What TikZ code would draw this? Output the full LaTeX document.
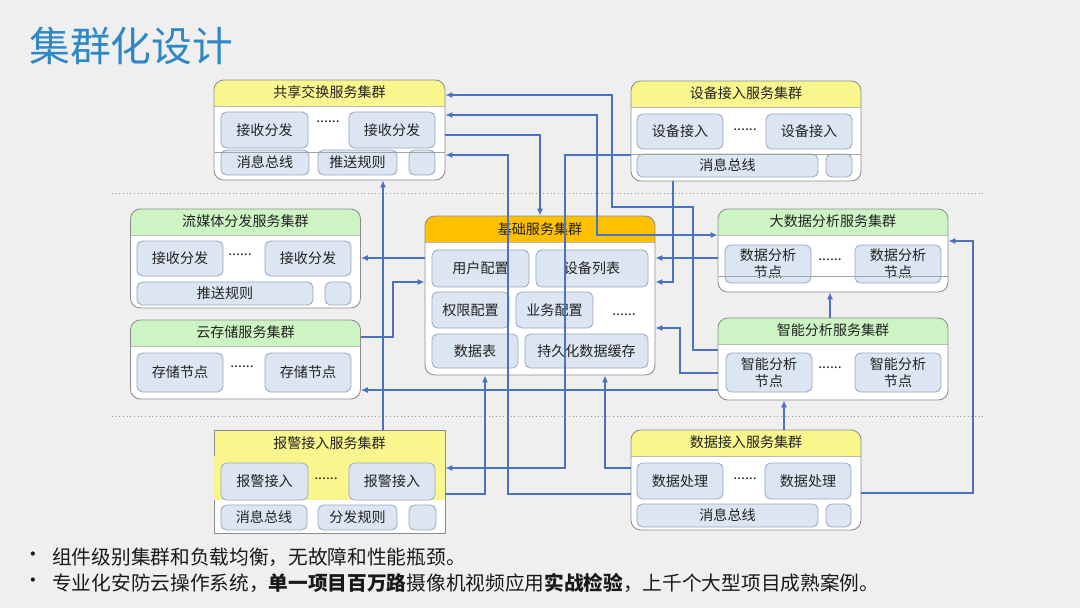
\documentclass[tikz,border=0pt]{standalone}
\usepackage{fontspec}
\setmainfont{Noto Sans CJK SC}
\usetikzlibrary{arrows.meta, positioning, calc}
\definecolor{pageBg}{HTML}{EFEFEF}
\definecolor{titleBlue}{HTML}{2F88C3}
\definecolor{linkBlue}{HTML}{4A72C0}
\definecolor{boxLine}{HTML}{8C8C8C}
\definecolor{unitFill}{HTML}{DCE5F2}
\definecolor{unitLine}{HTML}{98A9C3}
\definecolor{hdYellow}{HTML}{FAF68E}
\definecolor{hdGreen}{HTML}{CDF5C4}
\definecolor{hdOrange}{HTML}{FFC000}
\definecolor{txtDark}{HTML}{222222}

\begin{document}
\begin{tikzpicture}[
    x=0.025cm, y=-0.025cm,
    cluster/.style={rectangle, rounded corners=7pt, draw=boxLine, line width=0.6pt,
                 fill=white, inner sep=0pt, minimum width=5.75cm, minimum height=2.5cm,
                 path picture={
                   \fill[#1, sharp corners] (path picture bounding box.north west)
                     rectangle ([yshift=-0.65cm]path picture bounding box.north east);
                   \draw[boxLine!60, sharp corners]
                     ([yshift=-0.65cm]path picture bounding box.north west)
                     -- ([yshift=-0.65cm]path picture bounding box.north east);}},
    head/.style={font=\fontsize{10}{12}\selectfont\color{txtDark}, inner sep=0pt},
    unit/.style={rectangle, rounded corners=4pt, draw=unitLine, fill=unitFill,
                 line width=0.6pt, font=\fontsize{10}{12}\selectfont\color{txtDark},
                 align=center, minimum width=2.15cm, minimum height=0.9cm, inner sep=1pt},
    bar/.style={unit, minimum height=0.625cm},
    dots/.style={font=\fontsize{10}{10}\selectfont\color{txtDark}, inner sep=0pt},
    divider/.style={draw=boxLine!80, line width=0.5pt},
    link/.style={draw=linkBlue, line width=1.1pt, -{Latex[length=5pt,width=4.5pt]}},
    link2/.style={link, {Latex[length=5pt,width=4.5pt]}-{Latex[length=5pt,width=4.5pt]}},
    sepline/.style={draw=gray!80, line width=0.6pt, dotted},
    title/.style={font=\fontsize{29}{32}\selectfont\color{titleBlue}, inner sep=0pt},
    note/.style={font=\fontsize{14}{16}\selectfont\color{black!90}, inner sep=0pt},
  ]
    \fill[pageBg] (0,0) rectangle (1080,608);

    \node[title, anchor=west] (title) at (29,46) {集群化设计};

    % zone separators
    \draw[sepline] (112,193) -- (985,193);
    \draw[sepline] (112,416) -- (985,416);

    % clusters
    \node[cluster=hdYellow, minimum width=5.775cm] (share) at (329.5,130) {};
    \node[cluster=hdYellow] (devacc) at (746,131) {};
    \node[cluster=hdGreen, minimum height=2.475cm] (stream) at (245.5,258.5) {};
    \node[cluster=hdGreen, minimum height=1.975cm] (cloud) at (245.5,359.5) {};
    \node[cluster=hdOrange, minimum height=3.975cm] (base) at (540,295.5) {};
    \node[cluster=hdGreen, minimum height=2.075cm] (bigdata) at (833,250.5) {};
    \node[cluster=hdGreen, minimum height=2.05cm] (smart) at (833,359) {};
    \node[cluster=hdYellow, sharp corners, minimum width=5.775cm,
          minimum height=2.575cm] (alarm) at (329.5,481.5) {};
    \node[cluster=hdYellow] (dataacc) at (746,480) {};
    \fill[hdYellow] ([xshift=0.4pt,yshift=-0.67cm]alarm.north west)
      rectangle ([xshift=-0.4pt,yshift=-1.75cm]alarm.north east);

    \node[head] (share-h) at ([yshift=-0.325cm]share.north) {共享交换服务集群};
    \node[head] (devacc-h) at ([yshift=-0.325cm]devacc.north) {设备接入服务集群};
    \node[head] (stream-h) at ([yshift=-0.325cm]stream.north) {流媒体分发服务集群};
    \node[head] (cloud-h) at ([yshift=-0.325cm]cloud.north) {云存储服务集群};
    \node[head] (base-h) at ([yshift=-0.33cm]base.north) {基础服务集群};
    \node[head] (bigdata-h) at ([yshift=-0.325cm]bigdata.north) {大数据分析服务集群};
    \node[head] (smart-h) at ([yshift=-0.325cm]smart.north) {智能分析服务集群};
    \node[head] (alarm-h) at ([yshift=-0.35cm]alarm.north) {报警接入服务集群};
    \node[head] (dataacc-h) at ([yshift=-0.325cm]dataacc.north) {数据接入服务集群};

    % share
    \node[unit, minimum width=2.175cm] (share-r1) at (264.5,130) {接收分发};
    \node[unit] (share-r2) at (392,130) {接收分发};
    \node[dots] at (328,122) {......};
    \node[bar, minimum width=2.2cm] (share-bus) at (265,162.5) {消息总线};
    \node[bar, minimum width=1.975cm] (share-rule) at (357.5,162.5) {推送规则};
    \node[bar, minimum width=0.65cm] (share-sq) at (422,162.5) {};
    \draw[divider] (share.west |- 0,152) -- (share.east |- 0,152);

    % devacc
    \node[unit, minimum height=0.875cm] (devacc-a1) at (680,131.5) {设备接入};
    \node[unit, minimum height=0.875cm] (devacc-a2) at (809,131.5) {设备接入};
    \node[dots] at (745,130) {......};
    \node[bar, minimum width=4.525cm, minimum height=0.575cm] (devacc-bus) at (727.5,165.5) {消息总线};
    \node[bar, minimum width=0.65cm, minimum height=0.575cm] (devacc-sq) at (839,165.5) {};
    \draw[divider] (devacc.west |- 0,154) -- (devacc.east |- 0,154);

    % stream
    \node[unit, minimum height=0.875cm] (stream-r1) at (180,258.5) {接收分发};
    \node[unit, minimum height=0.875cm] (stream-r2) at (308,258.5) {接收分发};
    \node[dots] at (240,255) {......};
    \node[bar, minimum width=4.4cm, minimum height=0.575cm] (stream-rule) at (225,293.5) {推送规则};
    \node[bar, minimum width=0.65cm, minimum height=0.575cm] (stream-sq) at (338,293.5) {};

    % cloud
    \node[unit, minimum height=0.975cm] (cloud-n1) at (180,372.5) {存储节点};
    \node[unit, minimum height=0.975cm] (cloud-n2) at (308,372.5) {存储节点};
    \node[dots] at (242,367) {......};

    % base
    \node[unit, minimum width=2.425cm, minimum height=0.925cm] (base-user) at (480.5,268.5) {用户配置};
    \node[unit, minimum width=2.8cm, minimum height=0.925cm] (base-dev) at (592,268.5) {设备列表};
    \node[unit, minimum width=1.925cm] (base-perm) at (470.5,310) {权限配置};
    \node[unit, minimum width=1.925cm] (base-biz) at (554.5,310) {业务配置};
    \node[dots] at (624,315) {......};
    \node[unit, minimum height=0.85cm] (base-tab) at (475,351) {数据表};
    \node[unit, minimum width=3.075cm, minimum height=0.85cm] (base-cache) at (586.5,351) {持久化数据缓存};

    % bigdata
    \node[unit, minimum height=0.95cm] (bigdata-n1) at (768,264) {数据分析\\节点};
    \node[unit, minimum height=0.95cm] (bigdata-n2) at (898,264) {数据分析\\节点};
    \node[dots] at (830,260) {......};
    \draw[divider] (bigdata.west |- 0,276) -- (bigdata.east |- 0,276);

    % smart
    \node[unit, minimum height=0.975cm] (smart-n1) at (769,372.5) {智能分析\\节点};
    \node[unit, minimum height=0.975cm] (smart-n2) at (898,372.5) {智能分析\\节点};
    \node[dots] at (830,368) {......};

    % alarm
    \node[unit, minimum width=2.175cm, minimum height=0.925cm] (alarm-a1) at (264.5,481.5) {报警接入};
    \node[unit, minimum height=0.925cm] (alarm-a2) at (392,481.5) {报警接入};
    \node[dots] at (326,479) {......};
    \node[bar] (alarm-bus) at (264,517.5) {消息总线};
    \node[bar, minimum width=1.975cm] (alarm-rule) at (357.5,517.5) {分发规则};
    \node[bar, minimum width=0.675cm] (alarm-sq) at (422.5,517.5) {};

    % dataacc
    \node[unit] (dataacc-p1) at (680,481) {数据处理};
    \node[unit] (dataacc-p2) at (808,481) {数据处理};
    \node[dots] at (745,479) {......};
    \node[bar, minimum width=4.525cm, minimum height=0.575cm] (dataacc-bus) at (727.5,515.5) {消息总线};
    \node[bar, minimum width=0.625cm, minimum height=0.575cm] (dataacc-sq) at (838.5,515.5) {};

    % connectors
    \draw[link] (smart.west |- 0,350) -| (693,207) -| (612,95) -- (share.east |- 0,95);
    \draw[link2] (share.east |- 0,115) -| (597,235) -- (bigdata.west |- 0,235);
    \draw[link] (share.east |- 0,135) -| (base.north);
    \draw[link] (dataacc.west |- 0,494) -| (508,155) -- (share.east |- 0,155);
    \draw[link] (devacc.west |- 0,155) -| (565,468) -- (alarm.east |- 0,468);
    \draw[link] (devacc.south -| 673,0) |- (base.east |- 0,282);
    \draw[link] (bigdata.west |- 0,258) -- (base.east |- 0,258);
    \draw[link] (smart.west |- 0,373) -| (680,328) -- (base.east |- 0,328);
    \draw[link] (smart.west |- 0,390) -- (cloud.east |- 0,390);
    \draw[link] (base.west |- 0,258) -- (stream.east |- 0,258);
    \draw[link] (cloud.east |- 0,337) -| (393,282) -- (base.west |- 0,282);
    \draw[link] (alarm.north -| 383,0) -- (share.south -| 383,0);
    \draw[link] (alarm.east |- 0,494) -| (base.south -| 485,0);
    \draw[link] (dataacc.west |- 0,468) -| (base.south -| 605,0);
    \draw[link] (dataacc.north -| 784,0) -- (smart.south -| 784,0);
    \draw[link] (smart.north -| 830,0) -- (bigdata.south -| 830,0);
    \draw[link] (dataacc.east |- 0,493) -| (973,241) -- (bigdata.east |- 0,241);

    % notes
    \node[note] (b1-dot) at (33,557) {•};
    \node[note, anchor=west] (b1) at (52,557) {组件级别集群和负载均衡，无故障和性能瓶颈。};
    \node[note] (b2-dot) at (33,583) {•};
    \node[note, anchor=west] (b2) at (52,583) {专业化安防云操作系统，\textbf{单一项目百万路}摄像机视频应用\textbf{实战检验}，上千个大型项目成熟案例。};
\end{tikzpicture}
\end{document}
